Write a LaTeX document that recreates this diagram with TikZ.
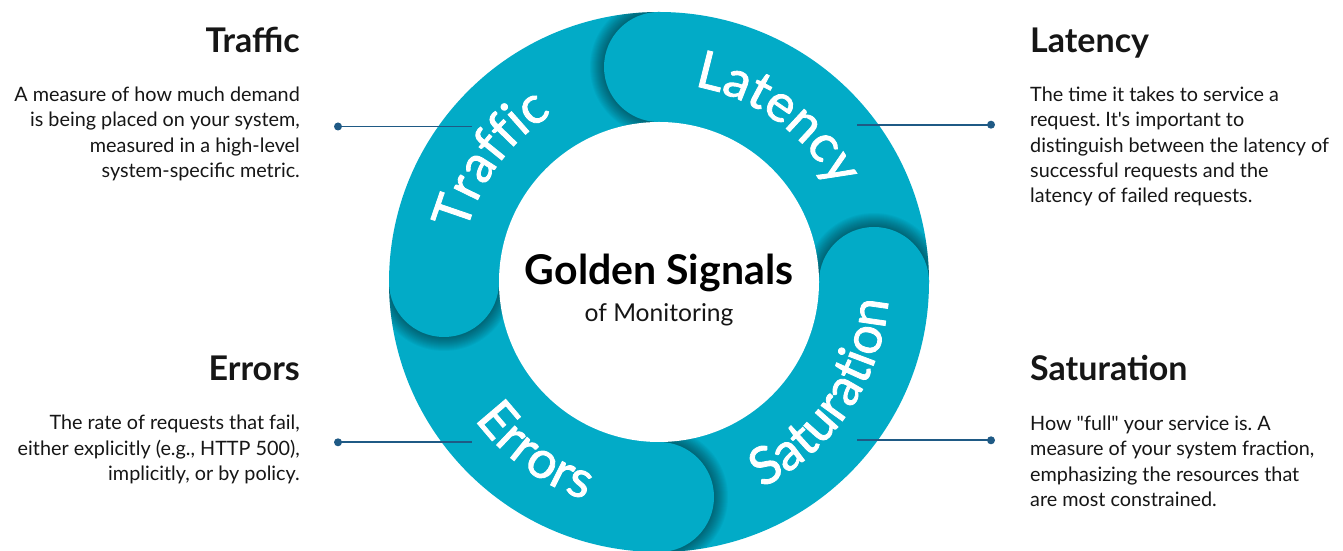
\documentclass[tikz,border=0pt]{standalone}
\usepackage{fontspec}
\setmainfont{Lato}[Ligatures=TeXOff]
\newfontfamily\ringfam{Lato}[FakeBold=1.6]
\usetikzlibrary{decorations.text}
\definecolor{ringteal}{RGB}{2,171,199}
\definecolor{linkblue}{RGB}{31,90,133}
\definecolor{inktext}{RGB}{22,22,22}
\newcommand{\ringfont}{\ringfam\fontsize{52}{52}\selectfont}
\newcommand{\bodyfont}{\frenchspacing\fontsize{19.8}{25.2}\selectfont}
\newcommand{\titlefont}{\bfseries\fontsize{34}{34}\selectfont}
\begin{document}
\begin{tikzpicture}[x=1pt,y=1pt,
  dotn/.style={circle, fill=linkblue, inner sep=0pt, minimum size=8pt},
  conn/.style={draw=linkblue, line width=1.8pt},
  titlel/.style={anchor=base east, inner sep=0pt, font=\titlefont, text=inktext},
  titler/.style={anchor=base west, inner sep=0pt, font=\titlefont, text=inktext},
  bodyl/.style={anchor=base east, inner sep=0pt, font=\bodyfont, text=inktext},
  bodyr/.style={anchor=base west, inner sep=0pt, font=\bodyfont, text=inktext},
  ringlabel/.style={decorate, decoration={text along path, text align=center, text color=white}}
]
\useasboundingbox (0,0) rectangle (1343,551);
\coordinate (C) at (659,269);

% ring (outer disc, inner hole painted later)
\fill[ringteal] (C) circle[radius=270];

% caps with shadows
\foreach \a in {90,0,270,180} {
  \begin{scope}
    \clip (C) circle[radius=270];
    \begin{scope}[shift={(C)}, rotate=\a]
      \clip (100,0) rectangle (300,120);
      \foreach \k in {1,...,14} {
        \fill[black, opacity=0.03] (215,0) circle[radius=55+\k];
      }
    \end{scope}
  \end{scope}
  \fill[ringteal] ([shift={(C)}]\a:215) circle[radius=55];
}
\fill[white] (C) circle[radius=160];

% ring labels
\path[ringlabel, decoration={text={|\ringfont|Latency}}]
  ([shift={(C)}]104:199) arc[start angle=104, end angle=4, radius=199];
\path[ringlabel, decoration={text={|\ringfont|Traffic}}]
  ([shift={(C)}]194:199) arc[start angle=194, end angle=94, radius=199];
\path[ringlabel, decoration={text={|\ringfont|Saturation}}]
  ([shift={(C)}]-104:230) arc[start angle=-104, end angle=36, radius=230];
\path[ringlabel, decoration={text={|\ringfont|Errors}}]
  ([shift={(C)}]164:230) arc[start angle=164, end angle=304, radius=230];

% centre
\node[anchor=base, inner sep=0pt, font=\bfseries\fontsize{41}{41}\selectfont, text=black] (gs) at (659,266) {Golden Signals};
\node[anchor=base, inner sep=0pt, font=\fontsize{24.6}{24.6}\selectfont, text=inktext] (om) at (659,229) {of Monitoring};

% connectors
\node[dotn] (tdot) at (338,424.5) {};
\coordinate (tend) at (472,424.5);
\draw[conn] (tdot.center) -- (tend);
\node[dotn] (ldot) at (991,426.3) {};
\coordinate (lend) at (857,426.3);
\draw[conn] (lend) -- (ldot.center);
\node[dotn] (edot) at (338,108.7) {};
\coordinate (eend) at (472,108.7);
\draw[conn] (edot.center) -- (eend);
\node[dotn] (sdot) at (991,110.7) {};
\coordinate (send) at (857,110.7);
\draw[conn] (send) -- (sdot.center);

% left texts
\node[titlel] (ttitle) at (300,498) {Traffic};
\node[bodyl] (tbody) at (300,449.3) {\parbox[t]{300pt}{\raggedleft A measure of how much demand\\ is being placed on your system,\\ measured in a high-level\\ system-specific metric.}};
\node[titlel] (etitle) at (300,170.3) {Errors};
\node[bodyl] (ebody) at (300,121) {\parbox[t]{300pt}{\raggedleft The rate of requests that fail,\\ either explicitly (e.g., HTTP 500),\\ implicitly, or by policy.}};

% right texts
\node[titler] (ltitle) at (1030,498) {Latency};
\node[bodyr] (lbody) at (1030,449.3) {\parbox[t]{312pt}{\raggedright The time it takes to service a\\ request. It's important to\\ distinguish between the latency of\\ successful requests and the\\ latency of failed requests.}};
\node[titler] (stitle) at (1030,170.3) {Saturation};
\node[bodyr] (sbody) at (1030,120.3) {\parbox[t]{312pt}{\raggedright How "full" your service is. A\\ measure of your system fraction,\\ emphasizing the resources that\\ are most constrained.}};
\end{tikzpicture}
\end{document}
